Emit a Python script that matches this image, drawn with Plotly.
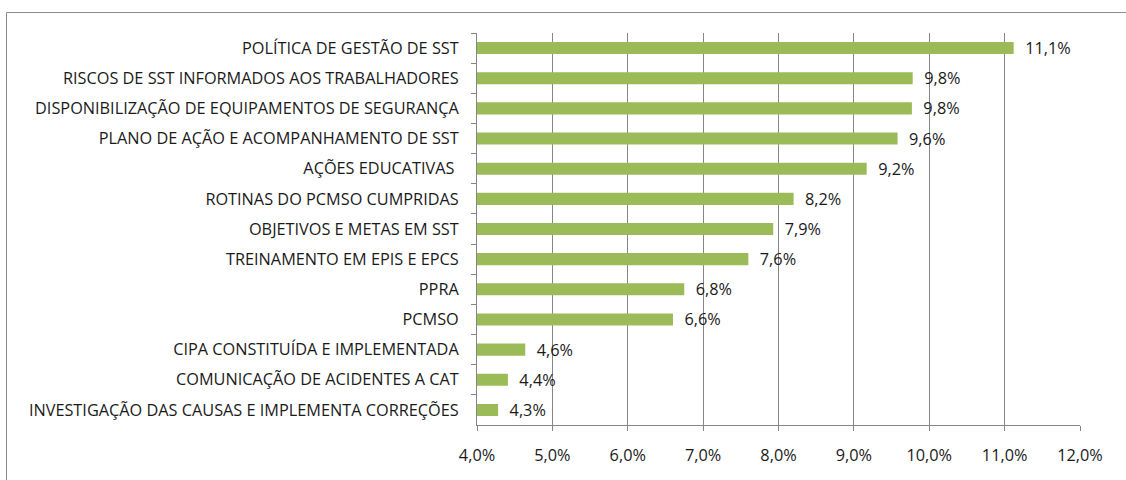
import plotly.graph_objects as go

categories = [
    "POLÍTICA DE GESTÃO DE SST",
    "RISCOS DE SST INFORMADOS AOS TRABALHADORES",
    "DISPONIBILIZAÇÃO DE EQUIPAMENTOS DE SEGURANÇA",
    "PLANO DE AÇÃO E ACOMPANHAMENTO DE SST",
    "AÇÕES EDUCATIVAS ",
    "ROTINAS DO PCMSO CUMPRIDAS",
    "OBJETIVOS E METAS EM SST",
    "TREINAMENTO EM EPIS E EPCS",
    "PPRA",
    "PCMSO",
    "CIPA CONSTITUÍDA E IMPLEMENTADA",
    "COMUNICAÇÃO DE ACIDENTES A CAT",
    "INVESTIGAÇÃO DAS CAUSAS E IMPLEMENTA CORREÇÕES",
]
values = [11.12, 9.78, 9.77, 9.58, 9.17, 8.2, 7.93, 7.6, 6.75, 6.6, 4.64, 4.41, 4.28]
tick_values = [4, 5, 6, 7, 8, 9, 10, 11, 12]
tick_labels = [f"{v:.1f}%".replace(".", ",") for v in tick_values]

W, H = 1126, 480
L, R, T, B = 477, 46, 33, 55
pw, ph = W - L - R, H - T - B

font_family = "'Open Sans', Lato, sans-serif"
font_size = 16.3
text_color = "#1a1a1a"
grid_color = "#868686"

fig = go.Figure(
    go.Bar(
        x=values,
        y=categories,
        orientation="h",
        marker=dict(color="#9BBB59", line=dict(width=0)),
        width=0.4,
        texttemplate="\u00a0\u00a0%{x:.1f}%",
        textposition="outside",
        constraintext="none",
        textfont=dict(family=font_family, size=font_size, color=text_color),
        cliponaxis=False,
        hoverinfo="skip",
    )
)

def px_to_paper_x(px):
    return (px - L) / pw

def px_to_paper_y(py):
    return (H - B - py) / ph

fig.add_shape(
    type="rect",
    xref="paper", yref="paper",
    x0=px_to_paper_x(6.5), x1=px_to_paper_x(1140),
    y0=px_to_paper_y(500), y1=px_to_paper_y(12.5),
    line=dict(color="#8c8c8c", width=1),
    fillcolor="rgba(0,0,0,0)",
    layer="below",
)

fig.update_layout(
    width=W, height=H,
    margin=dict(l=L, r=R, t=T, b=B, pad=0),
    paper_bgcolor="white",
    plot_bgcolor="white",
    separators=",.",
    showlegend=False,
    font=dict(family=font_family, size=font_size, color=text_color),
    xaxis=dict(
        range=[4, 12],
        tickvals=tick_values,
        ticktext=tick_labels,
        showgrid=True,
        gridcolor=grid_color,
        gridwidth=1,
        showline=True,
        linecolor=grid_color,
        linewidth=1,
        ticks="outside",
        ticklen=5,
        tickcolor=grid_color,
        ticklabelstandoff=10,
        zeroline=False,
        automargin=False,
        tickfont=dict(family=font_family, size=font_size, color=text_color),
        fixedrange=True,
    ),
    yaxis=dict(
        autorange="reversed",
        showline=True,
        linecolor=grid_color,
        linewidth=1,
        ticks="outside",
        ticklen=5,
        tickcolor=grid_color,
        tickson="boundaries",
        showgrid=False,
        ticklabelstandoff=14,
        automargin=False,
        tickfont=dict(family=font_family, size=font_size, color=text_color),
        fixedrange=True,
    ),
)

fig.write_html(
    "out.html",
    config={"displayModeBar": False},
    post_script="document.body.style.margin='0';document.body.style.overflow='hidden';",
)
